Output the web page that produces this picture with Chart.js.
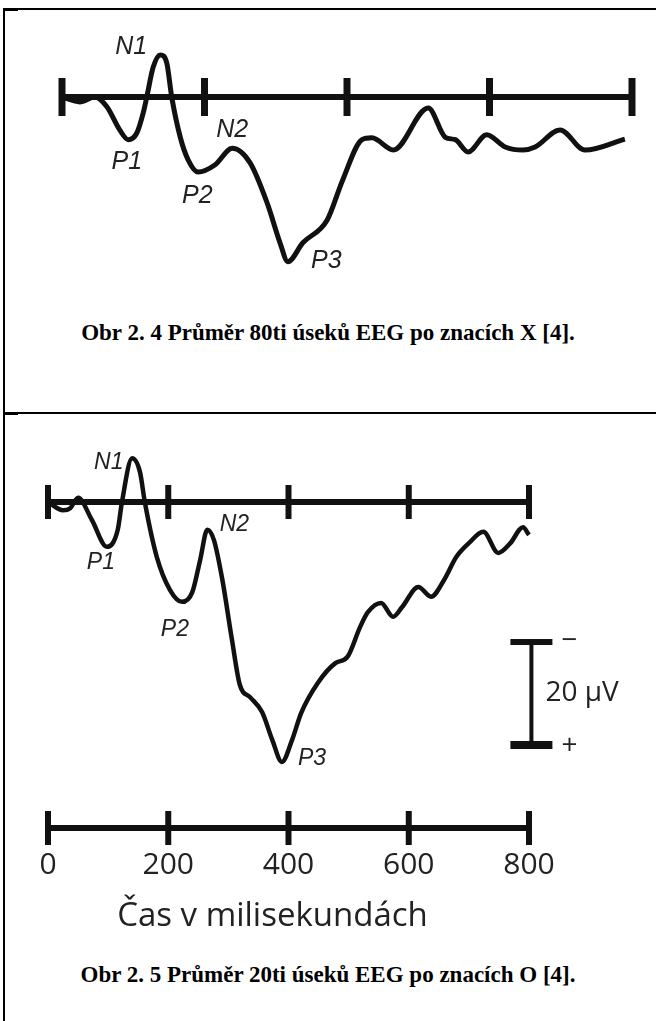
<!DOCTYPE html>
<html>
<head>
<meta charset="utf-8">
<script src="https://cdn.jsdelivr.net/npm/chart.js@4.4.1/dist/chart.umd.min.js"></script>
<style>
  html, body { margin: 0; padding: 0; background: #fff; }
  body { position: relative; width: 656px; height: 1021px; overflow: hidden; }
  .rule { position: absolute; background: #000; }
  .cap { position: absolute; left: 0; width: 656px; text-align: center;
         font-family: "Liberation Serif", "Times New Roman", serif; font-weight: bold;
         font-size: 23px; line-height: 26px; color: #000; }
  canvas { position: absolute; left: 0; }
</style>
</head>
<body>
  <!-- table borders -->
  <div class="rule" style="left:3px;top:8px;width:653px;height:2px"></div>
  <div class="rule" style="left:3px;top:9px;width:15px;height:2px"></div>
  <div class="rule" style="left:3px;top:8px;width:2px;height:1013px"></div>
  <div class="rule" style="left:3px;top:412px;width:653px;height:2px"></div>
  <div class="rule" style="left:3px;top:413px;width:15px;height:2px"></div>

  <canvas id="eegX" width="656" height="300" style="top:0"></canvas>
  <div class="cap" style="top:320px">Obr 2. 4 Průměr 80ti úseků EEG po znacích X [4].</div>

  <canvas id="eegO" width="656" height="530" style="top:420px"></canvas>
  <div class="cap" style="top:962px">Obr 2. 5 Průměr 20ti úseků EEG po znacích O [4].</div>

<script>
// ---- time axis (ms) ----
const tickTimes  = [0, 200, 400, 600, 800];
const tickLabels = ['0', '200', '400', '600', '800'];
const peakNames  = ['N1', 'P1', 'N2', 'P2', 'P3'];

// ---- average of 80 epochs after the symbol X (time in ms, amplitude in µV, negative up) ----
const timeX = [0, 25, 46, 63, 81, 93, 105, 114, 119, 128, 138, 147, 154, 166, 177, 191, 215, 239,
               264, 288, 306, 317, 338, 372, 394, 421, 435, 465, 514, 538, 552, 570, 596, 622,
               647, 664, 699, 734, 790];
const eegX  = [0, 0.8, 0, 1.6, 5.4, 7.0, 5.9, 2.6, 0, -4.9, -6.9, -5.6, 0, 6.6, 10.3, 12.3, 11.1, 8.4,
               10.8, 17.4, 23.9, 27.0, 23.9, 20.2, 13.6, 7.0, 6.7, 8.7, 1.8, 6.6, 7.0, 9.0, 6.2, 8.2,
               8.7, 8.2, 5.4, 8.7, 6.9];

// ---- average of 20 epochs after the symbol O ----
const timeO = [0, 25, 37, 50, 73, 98, 116, 123, 140, 153, 161, 181, 203, 223, 240, 253, 265, 276,
               290, 306, 319, 336, 356, 373, 389, 406, 421, 449, 478, 498, 519, 532, 554, 574,
               589, 616, 637, 659, 679, 700, 724, 749, 769, 790, 800];
const eegO  = [0, 1.6, 1.2, -0.8, 3.5, 8.7, 5.4, 0, -8.5, -5.8, 0, 10.7, 17.1, 19.4, 17.5, 11.3, 5.4, 7.4,
               15.1, 26.8, 35.5, 37.9, 40.8, 46.2, 50.5, 46.2, 41.0, 35.1, 31.3, 30.1, 24.3, 21.4, 19.6, 22.3,
               20.4, 16.5, 18.4, 15.1, 10.7, 8.0, 5.8, 9.9, 8.0, 4.9, 6.4];

// calibration bar
const barMicroVolts = 20;

const toPoints = (t, v) => t.map((x, i) => ({ x, y: v[i] }));

// Draws the time ruler(s), peak names and the calibration bar through the chart's scales.
const eegDecor = {
  id: 'eegDecor',
  beforeDatasetsDraw(chart, args, o) {
    const { ctx, scales: { x, y } } = chart;
    const x0 = x.getPixelForValue(tickTimes[0]);
    const x1 = x.getPixelForValue(tickTimes[tickTimes.length - 1]);
    const ruler = (py, r) => {
      ctx.strokeStyle = '#111';
      ctx.lineCap = 'butt';
      ctx.lineWidth = r.lineWidth;
      ctx.beginPath(); ctx.moveTo(x0, py); ctx.lineTo(x1, py); ctx.stroke();
      ctx.lineWidth = r.tickWidth;
      tickTimes.forEach(t => {
        const px = x.getPixelForValue(t);
        ctx.beginPath(); ctx.moveTo(px, py - r.tickHalf); ctx.lineTo(px, py + r.tickHalf); ctx.stroke();
      });
    };
    ctx.save();
    ruler(y.getPixelForValue(0), o.ruler);
    if (o.lower) {
      const py = o.lower.y;
      ruler(py, o.ruler);
      ctx.fillStyle = '#222';
      ctx.font = o.lower.font;
      ctx.textAlign = 'center';
      ctx.textBaseline = 'middle';
      tickTimes.forEach((t, i) => ctx.fillText(tickLabels[i], x.getPixelForValue(t), py + o.lower.labelDy));
      ctx.font = o.lower.titleFont;
      ctx.fillText(o.lower.title, (x0 + x1) / 2 + o.lower.titleDx, py + o.lower.titleDy);
    }
    ctx.restore();
  },
  afterDatasetsDraw(chart, args, o) {
    const { ctx, scales: { x, y } } = chart;
    ctx.save();
    ctx.fillStyle = '#222';
    ctx.font = o.peakFont;
    ctx.textAlign = 'center';
    ctx.textBaseline = 'middle';
    o.peaks.forEach(p => ctx.fillText(p.name, x.getPixelForValue(p.t), y.getPixelForValue(p.v)));
    if (o.bar) {
      const b = o.bar;
      const bx = x.getPixelForValue(b.t);
      const yTop = y.getPixelForValue(b.v);
      const yBot = y.getPixelForValue(b.v + barMicroVolts);
      ctx.fillStyle = '#111';
      ctx.fillRect(bx - 2, yTop, 4, yBot - yTop);
      ctx.fillRect(bx - 21, yTop - 3, 42, 6);
      ctx.fillRect(bx - 21, yBot - 4, 42, 8);
      ctx.fillStyle = '#222';
      ctx.font = b.font;
      ctx.textAlign = 'left';
      ctx.fillText('\u2212', bx + 30, yTop - 1);
      ctx.fillText('+', bx + 30, yBot + 1);
      ctx.fillText(barMicroVolts + ' \u00b5V', bx + 14, (yTop + yBot) / 2);
    }
    ctx.restore();
  }
};

function eegChart(id, t, v, cfg) {
  return new Chart(document.getElementById(id), {
    type: 'line',
    data: {
      datasets: [{
        data: toPoints(t, v),
        borderColor: '#111',
        borderWidth: cfg.lineWidth,
        pointRadius: 0,
        cubicInterpolationMode: 'monotone',
        clip: false
      }]
    },
    options: {
      responsive: false,
      animation: false,
      events: [],
      layout: { padding: cfg.padding },
      scales: {
        x: { type: 'linear', min: 0, max: 800, display: false },
        y: { type: 'linear', min: cfg.yMin, max: cfg.yMax, reverse: true, display: false }
      },
      plugins: {
        legend: { display: false },
        tooltip: { enabled: false },
        eegDecor: cfg.decor
      }
    },
    plugins: [eegDecor]
  });
}

eegChart('eegX', timeX, eegX, {
  lineWidth: 5,
  padding: { left: 62, right: 24, top: 36, bottom: 20 },
  yMin: -10, yMax: 30,
  decor: {
    ruler: { lineWidth: 6, tickWidth: 7, tickHalf: 19 },
    peakFont: 'italic 25px "Liberation Sans", Arial, sans-serif',
    peaks: [
      { name: peakNames[0], t: 97,  v: -8.2 },
      { name: peakNames[1], t: 91,  v: 10.7 },
      { name: peakNames[2], t: 239, v: 5.4 },
      { name: peakNames[3], t: 190, v: 16.2 },
      { name: peakNames[4], t: 371, v: 26.9 }
    ]
  }
});

eegChart('eegO', timeO, eegO, {
  lineWidth: 4.5,
  padding: { left: 48, right: 127, top: 20.2, bottom: 170 },
  yMin: -12, yMax: 54,
  decor: {
    ruler: { lineWidth: 6, tickWidth: 6, tickHalf: 17 },
    peakFont: 'italic 23px "Liberation Sans", Arial, sans-serif',
    peaks: [
      { name: peakNames[0], t: 101, v: -7.6 },
      { name: peakNames[1], t: 88,  v: 11.7 },
      { name: peakNames[2], t: 310, v: 4.3 },
      { name: peakNames[3], t: 211, v: 24.8 },
      { name: peakNames[4], t: 439, v: 49.9 }
    ],
    bar: { t: 804, v: 27.2, font: '28px "Open Sans", sans-serif' },
    lower: {
      y: 408, labelDy: 37, font: '30px "Open Sans", sans-serif',
      title: 'Čas v milisekundách', titleFont: '33px "Open Sans", sans-serif',
      titleDx: -16, titleDy: 89
    }
  }
});
</script>
</body>
</html>
